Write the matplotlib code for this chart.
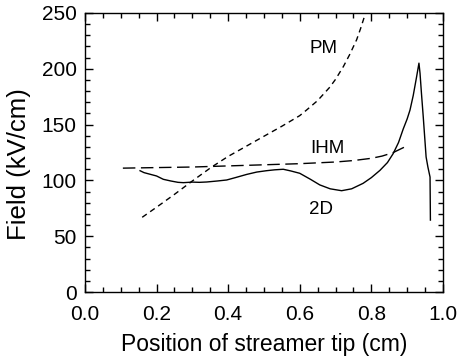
import matplotlib
matplotlib.use("Agg")
import matplotlib.pyplot as plt
from matplotlib.ticker import MultipleLocator, FormatStrFormatter

plt.rcParams['font.family'] = ['Liberation Sans', 'DejaVu Sans']

# Planar model (PM)
pm_x = [0.16, 0.20, 0.25, 0.30, 0.354, 0.40, 0.45, 0.497, 0.55, 0.60, 0.619, 0.65,
        0.684, 0.70, 0.722, 0.74, 0.759, 0.77, 0.782, 0.787]
pm_y = [67, 76, 87.5, 99.5, 112, 121.5, 130.5, 139, 148.5, 158, 163, 171.5,
        183.5, 190.5, 202, 213, 226, 236, 248, 254]

# Infinite homogeneous model (IHM)
ihm_x = [0.106, 0.20, 0.30, 0.40, 0.50, 0.60, 0.70, 0.75, 0.80, 0.83, 0.86, 0.90]
ihm_y = [111, 111.5, 112, 113, 114, 115, 116.5, 117.8, 119.8, 121.8, 124.8, 131]

# 2D simulation
d2_x = [0.154, 0.165, 0.18, 0.20, 0.219, 0.24, 0.26, 0.275, 0.30, 0.32, 0.34, 0.37,
        0.396, 0.42, 0.452, 0.48, 0.507, 0.53, 0.554, 0.575, 0.60, 0.63, 0.656, 0.685,
        0.717, 0.745, 0.777, 0.80, 0.824, 0.845, 0.861, 0.876, 0.889, 0.90, 0.908,
        0.917, 0.926, 0.933, 0.936, 0.940, 0.945, 0.953, 0.958, 0.964, 0.965]
d2_y = [108.7, 107, 105.7, 104, 101, 99.5, 98.3, 98, 98.5, 98.3, 98.6, 99.5,
        100.4, 102.5, 105.4, 107.5, 108.7, 109.5, 110, 108.5, 106.4, 101, 96, 92.5,
        90.8, 92.5, 97.4, 102.5, 109, 116, 124, 134, 146, 155, 163,
        176, 192, 205, 196, 178, 157, 121, 112, 103, 64.5]

fig = plt.figure(figsize=(4.59, 3.58), dpi=100)
ax = fig.add_axes([0.185, 0.184, 0.780, 0.780])

ax.plot(pm_x, pm_y, color='black', lw=1.0, linestyle=(0, (4, 3)))
ax.plot(ihm_x, ihm_y, color='black', lw=1.0, linestyle=(0, (9, 4)))
ax.plot(d2_x, d2_y, color='black', lw=1.0, linestyle='-')

ax.text(0.667, 217.7, 'PM', ha='center', va='center', fontsize=13.5)
ax.text(0.677, 129, 'IHM', ha='center', va='center', fontsize=13.5)
ax.text(0.659, 74, '2D', ha='center', va='center', fontsize=13.5)

ax.set_xlim(0, 1.0)
ax.set_ylim(0, 250)
ax.xaxis.set_major_locator(MultipleLocator(0.2))
ax.xaxis.set_minor_locator(MultipleLocator(0.05))
ax.yaxis.set_major_locator(MultipleLocator(50))
ax.yaxis.set_minor_locator(MultipleLocator(10))
ax.xaxis.set_major_formatter(FormatStrFormatter('%.1f'))
ax.tick_params(which='both', direction='in', top=True, right=True, labelsize=15, width=1.0)
ax.tick_params(which='major', length=6)
ax.tick_params(axis='x', which='major', pad=9)
ax.tick_params(axis='y', which='major', pad=6)
ax.tick_params(which='minor', length=3.5)
for s in ax.spines.values():
    s.set_linewidth(1.0)

ax.set_xlabel('Position of streamer tip (cm)', fontsize=16.5, labelpad=7)
ax.set_ylabel('Field (kV/cm)', fontsize=18.5)
ax.yaxis.set_label_coords(-0.15, 0.46)

fig.savefig('out.png', dpi=100)
